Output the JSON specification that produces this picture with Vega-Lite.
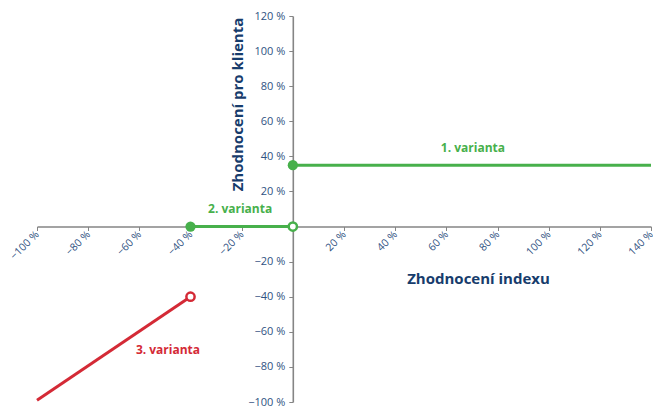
{
  "$schema": "https://vega.github.io/schema/vega-lite/v6.json",
  "width": 614,
  "height": 386,
  "autosize": {"type": "none"},
  "padding": {"left": 37, "top": 16, "right": 2, "bottom": 6},
  "background": "white",
  "config": {"view": {"stroke": null}, "font": "Open Sans"},
  "datasets": {
    "lines": [
      {"series": "1. varianta", "x": 0, "y": 35},
      {"series": "1. varianta", "x": 140, "y": 35},
      {"series": "2. varianta", "x": -40, "y": 0},
      {"series": "2. varianta", "x": 0, "y": 0},
      {"series": "3. varianta", "x": -100, "y": -99},
      {"series": "3. varianta", "x": -40, "y": -40}
    ],
    "points": [
      {"series": "1. varianta", "x": 0, "y": 35, "kind": "filled"},
      {"series": "2. varianta", "x": -40, "y": 0, "kind": "filled"},
      {"series": "2. varianta", "x": 0, "y": 0, "kind": "open"},
      {"series": "3. varianta", "x": -40, "y": -40, "kind": "open"}
    ],
    "labels": [
      {"series": "1. varianta", "x": 70.4, "y": 44.7},
      {"series": "2. varianta", "x": -20.6, "y": 10},
      {"series": "3. varianta", "x": -48.8, "y": -70.4}
    ]
  },
  "encoding": {
    "x": {
      "field": "x", "type": "quantitative",
      "scale": {"domain": [-100, 140], "nice": false, "zero": false},
      "axis": {
        "title": "Zhodnocení indexu",
        "values": [-100, -80, -60, -40, -20, 0, 20, 40, 60, 80, 100, 120, 140],
        "labelExpr": "datum.value == 0 ? '' : replace(format(datum.value, 'd'), '-', '−') + ' %'",
        "offset": -175.5,
        "grid": false,
        "domainColor": "#858585",
        "domainWidth": 1.6,
        "tickColor": "#858585",
        "tickWidth": 1,
        "tickSize": 4,
        "labelAngle": -45,
        "labelAlign": "right",
        "labelBaseline": "middle",
        "labelPadding": 2,
        "labelFontSize": 10.5,
        "labelColor": "#2f5282",
        "labelFont": "Open Sans",
        "labelOverlap": false,
        "labelBound": false,
        "titleFont": "Open Sans",
        "titleFontSize": 15,
        "titleFontWeight": "bold",
        "titleColor": "#173c6c",
        "titleX": 441,
        "titleY": 52,
        "titleAlign": "center",
        "titleBaseline": "middle"
      }
    },
    "y": {
      "field": "y", "type": "quantitative",
      "scale": {"domain": [-100, 120], "nice": false, "zero": false},
      "axis": {
        "title": "Zhodnocení pro klienta",
        "values": [-100, -80, -60, -40, -20, 0, 20, 40, 60, 80, 100, 120],
        "labelExpr": "datum.value == 0 ? '' : replace(format(datum.value, 'd'), '-', '−') + ' %'",
        "offset": -255.8,
        "grid": false,
        "domainColor": "#858585",
        "domainWidth": 1.6,
        "tickColor": "#858585",
        "tickWidth": 1,
        "tickSize": 4,
        "labelPadding": 4,
        "labelFontSize": 11,
        "labelColor": "#2f5282",
        "labelFont": "Open Sans",
        "labelOverlap": false,
        "titleFont": "Open Sans",
        "titleFontSize": 15,
        "titleFontWeight": "bold",
        "titleColor": "#173c6c",
        "titleAngle": -90,
        "titleX": -55,
        "titleY": 88,
        "titleAlign": "center",
        "titleBaseline": "middle"
      }
    },
    "color": {
      "field": "series", "type": "nominal",
      "scale": {"domain": ["1. varianta", "2. varianta", "3. varianta"], "range": ["#47b04b", "#47b04b", "#d42a36"]},
      "legend": null
    }
  },
  "layer": [
    {
      "data": {"name": "lines"},
      "mark": {"type": "line", "strokeWidth": 3, "strokeCap": "butt"},
      "encoding": {"detail": {"field": "series"}, "order": {"field": "x"}}
    },
    {
      "data": {"name": "points"},
      "transform": [{"filter": "datum.kind == 'filled'"}],
      "mark": {"type": "point", "filled": true, "size": 105, "opacity": 1}
    },
    {
      "data": {"name": "points"},
      "transform": [{"filter": "datum.kind == 'open'"}],
      "mark": {"type": "point", "filled": false, "fill": "white", "fillOpacity": 1, "size": 68, "strokeWidth": 2.5, "opacity": 1}
    },
    {
      "data": {"name": "labels"},
      "mark": {"type": "text", "fontWeight": "bold", "fontSize": 12, "font": "Open Sans", "align": "center", "baseline": "middle"},
      "encoding": {"text": {"field": "series"}}
    }
  ]
}
